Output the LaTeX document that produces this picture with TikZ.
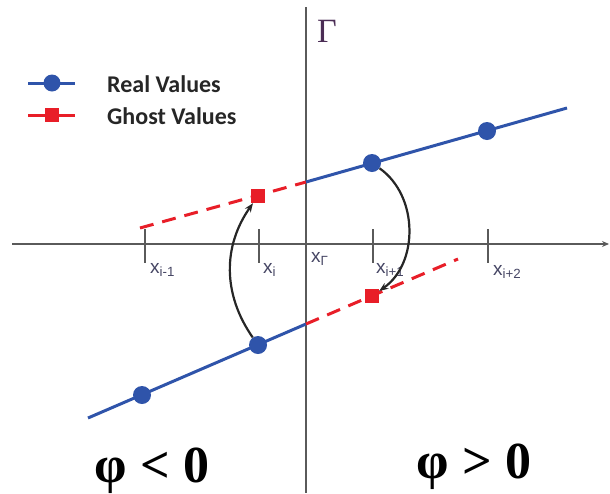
\documentclass[tikz,border=0pt]{standalone}
\usepackage{fontspec}
\setmainfont{Liberation Serif}
\setsansfont{Liberation Sans}
\newfontfamily\legendfont{Carlito}
\usetikzlibrary{arrows.meta}
\definecolor{realblue}{RGB}{47,84,170}
\definecolor{ghostred}{RGB}{232,30,40}
\definecolor{axisgray}{RGB}{90,90,90}
\definecolor{labelgray}{RGB}{70,70,100}
\tikzset{
  realline/.style={realblue,line width=3pt},
  ghostline/.style={ghostred,line width=3pt,dash pattern=on 14pt off 9pt},
  realpt/.style={circle,fill=realblue,inner sep=0pt,minimum size=18pt},
  ghostpt/.style={rectangle,fill=ghostred,inner sep=0pt,minimum size=14pt},
  axisline/.style={axisgray,line width=2pt},
  xlabel/.style={anchor=base west,inner sep=0pt,text=labelgray,font=\sffamily\fontsize{19}{19}\selectfont},
  legendtext/.style={anchor=west,inner sep=0pt,text=black!85,font=\legendfont\bfseries\fontsize{24}{24}\selectfont},
  phitext/.style={anchor=base,inner sep=0pt,font=\bfseries\fontsize{52}{52}\selectfont},
  jump/.style={-{Stealth[length=9pt,width=7pt]},line width=2.2pt,black!85}
}
\begin{document}
\begin{tikzpicture}[x=1pt,y=-1pt]
	\useasboundingbox (0,0) rectangle (610,493);
	%axes
	\coordinate (hl) at (12,244);
	\coordinate (hr) at (609,244);
	\coordinate (vt) at (306,7);
	\coordinate (vb) at (306,493);
	\draw[axisline,-{Stealth[length=7pt,width=6pt]}] (hl) -- (hr);
	\draw[axisline] (vt) -- (vb);
	\node[text={rgb,255:red,75;green,45;blue,85},font=\fontsize{34}{34}\selectfont] (gam) at (327,31) {Γ};
	%ticks and grid labels
	\foreach \t in {145,259,373,488}
		\draw[axisgray,line width=1.8pt] (\t,229) -- (\t,263);
	\node[xlabel] (xim) at (150,273) {x\textsubscript{i-1}};
	\node[xlabel] (xi) at (263,273) {x\textsubscript{i}};
	\node[xlabel] (xg) at (311,262) {x\textsubscript{Γ}};
	\node[xlabel] (xip) at (376,273) {x\textsubscript{i+1}};
	\node[xlabel] (xipp) at (493,275) {x\textsubscript{i+2}};
	%interface lines
	\coordinate (ua) at (140,228);
	\coordinate (uo) at (306,182);
	\coordinate (ub) at (567,108);
	\coordinate (la) at (88,418);
	\coordinate (lo) at (306,324);
	\coordinate (lb) at (458,259);
	\draw[ghostline] (ua) -- (uo);
	\draw[realline] (uo) -- (ub);
	\draw[realline] (la) -- (lo);
	\draw[ghostline] (lo) -- (lb);
	%real and ghost values
	\node[realpt] (rv1) at (142,395) {};
	\node[realpt] (rv2) at (258,345) {};
	\node[realpt] (rv3) at (372,163) {};
	\node[realpt] (rv4) at (487,131) {};
	\node[ghostpt] (gv1) at (258,196) {};
	\node[ghostpt] (gv2) at (372,296) {};
	%copy arrows
	\draw[jump] (rv2) to[bend left=35] (gv1);
	\draw[jump] (rv3) to[bend left=55] (gv2);
	%legend
	\coordinate (rla) at (28,83);
	\coordinate (rlb) at (75,83);
	\coordinate (gla) at (28,115);
	\coordinate (glb) at (75,115);
	\draw[realline] (rla) -- (rlb);
	\node[realpt,minimum size=17pt] (rlm) at (52,83) {};
	\node[legendtext] (rlt) at (107,84) {Real Values};
	\draw[ghostline,dash pattern={}] (gla) -- (glb);
	\node[ghostpt] (glm) at (52,115) {};
	\node[legendtext] (glt) at (107,116) {Ghost Values};
	%sign of phi
	\node[phitext] (neg) at (152,482) {φ < 0};
	\node[phitext] (pos) at (474,478) {φ > 0};
\end{tikzpicture}
\end{document}
